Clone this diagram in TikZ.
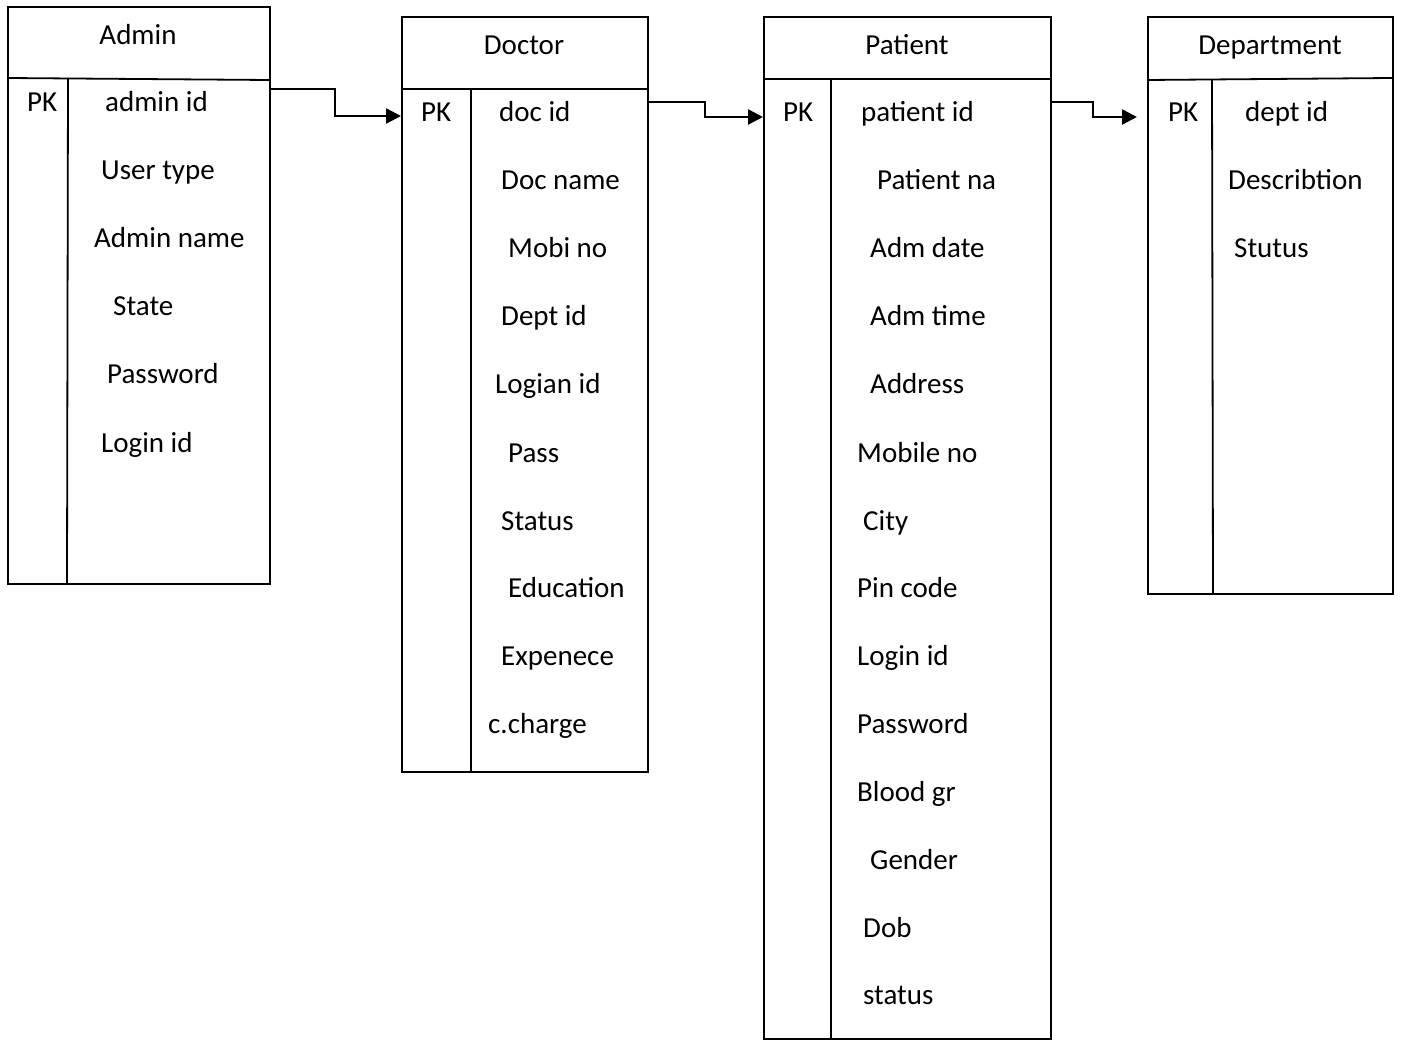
\documentclass[tikz,border=0pt]{standalone}
\usepackage{fontspec}
\setmainfont{Carlito}
\usetikzlibrary{arrows.meta}
\begin{document}
\begin{tikzpicture}[x=1pt,y=-1pt,
  tbox/.style={draw=black, line width=1.8pt, inner sep=0pt, anchor=north west},
  rule/.style={draw=black, line width=1.8pt},
  conn/.style={draw=black, line width=2.4pt, -{Triangle[length=15pt,width=15pt]}},
  lbl/.style={anchor=base west, inner sep=0pt, font=\fontsize{29}{34}\selectfont},
  ttl/.style={anchor=base, inner sep=0pt, font=\fontsize{29}{34}\selectfont}]
\useasboundingbox (0,0) rectangle (1403,1040);
% Admin
\node[tbox, minimum width=262pt, minimum height=577pt] (admin) at (7,6) {};
\draw[rule] (7,78) -- (269,80);
\draw[rule] (68,78) -- (67,583);
\node[ttl] (adminT) at (138,45) {Admin};
\node[lbl] (adminPK) at (27,112) {PK};
\node[lbl] (a1) at (105,112) {admin id};
\node[lbl] (a2) at (101,180) {User type};
\node[lbl] (a3) at (94,248) {Admin name};
\node[lbl] (a4) at (113,316) {State};
\node[lbl] (a5) at (107,384) {Password};
\node[lbl] (a6) at (101,452) {Login id};
% Doctor
\node[tbox, minimum width=246pt, minimum height=755pt] (doctor) at (401,16) {};
\draw[rule] (401,89) -- (647,89);
\draw[rule] (471,89) -- (471,771);
\node[ttl] (doctorT) at (524,55) {Doctor};
\node[lbl] (doctorPK) at (421,122) {PK};
\node[lbl] (d1) at (499,122) {doc id};
\node[lbl] (d2) at (501,190) {Doc name};
\node[lbl] (d3) at (508,258) {Mobi no};
\node[lbl] (d4) at (501,326) {Dept id};
\node[lbl] (d5) at (495,394) {Logian id};
\node[lbl] (d6) at (508,462) {Pass};
\node[lbl] (d7) at (501,530) {Status};
\node[lbl] (d8) at (508,597) {Education};
\node[lbl] (d9) at (501,665) {Expenece};
\node[lbl] (d10) at (488,733) {c.charge};
% Patient
\node[tbox, minimum width=287pt, minimum height=1022pt] (patient) at (763,16) {};
\draw[rule] (763,79) -- (1050,79);
\draw[rule] (831,79) -- (831,1040);
\node[ttl] (patientT) at (907,55) {Patient};
\node[lbl] (patientPK) at (783,122) {PK};
\node[lbl] (p1) at (861,122) {patient id};
\node[lbl] (p2) at (877,190) {Patient na};
\node[lbl] (p3) at (870,258) {Adm date};
\node[lbl] (p4) at (870,326) {Adm time};
\node[lbl] (p5) at (870,394) {Address};
\node[lbl] (p6) at (857,462) {Mobile no};
\node[lbl] (p7) at (863,530) {City};
\node[lbl] (p8) at (857,597) {Pin code};
\node[lbl] (p9) at (857,665) {Login id};
\node[lbl] (p10) at (857,733) {Password};
\node[lbl] (p11) at (857,801) {Blood gr};
\node[lbl] (p12) at (870,869) {Gender};
\node[lbl] (p13) at (863,937) {Dob};
\node[lbl] (p14) at (863,1004) {status};
% Department
\node[tbox, minimum width=245pt, minimum height=577pt] (dept) at (1147,16) {};
\draw[rule] (1147,80) -- (1392,78);
\draw[rule] (1212,80) -- (1213,593);
\node[ttl] (deptT) at (1270,55) {Department};
\node[lbl] (deptPK) at (1168,122) {PK};
\node[lbl] (e1) at (1245,122) {dept id};
\node[lbl] (e2) at (1228,190) {Describtion};
\node[lbl] (e3) at (1234,258) {Stutus};
% connectors
\coordinate (c3end) at (1137,117);
\draw[conn] (admin.east |- 0,89) -- (335,89) |- (doctor.west |- 0,116);
\draw[conn] (doctor.east |- 0,102) -- (705,102) |- (patient.west |- 0,117);
\draw[conn] (patient.east |- 0,102) -- (1093,102) |- (c3end);
\end{tikzpicture}
\end{document}
